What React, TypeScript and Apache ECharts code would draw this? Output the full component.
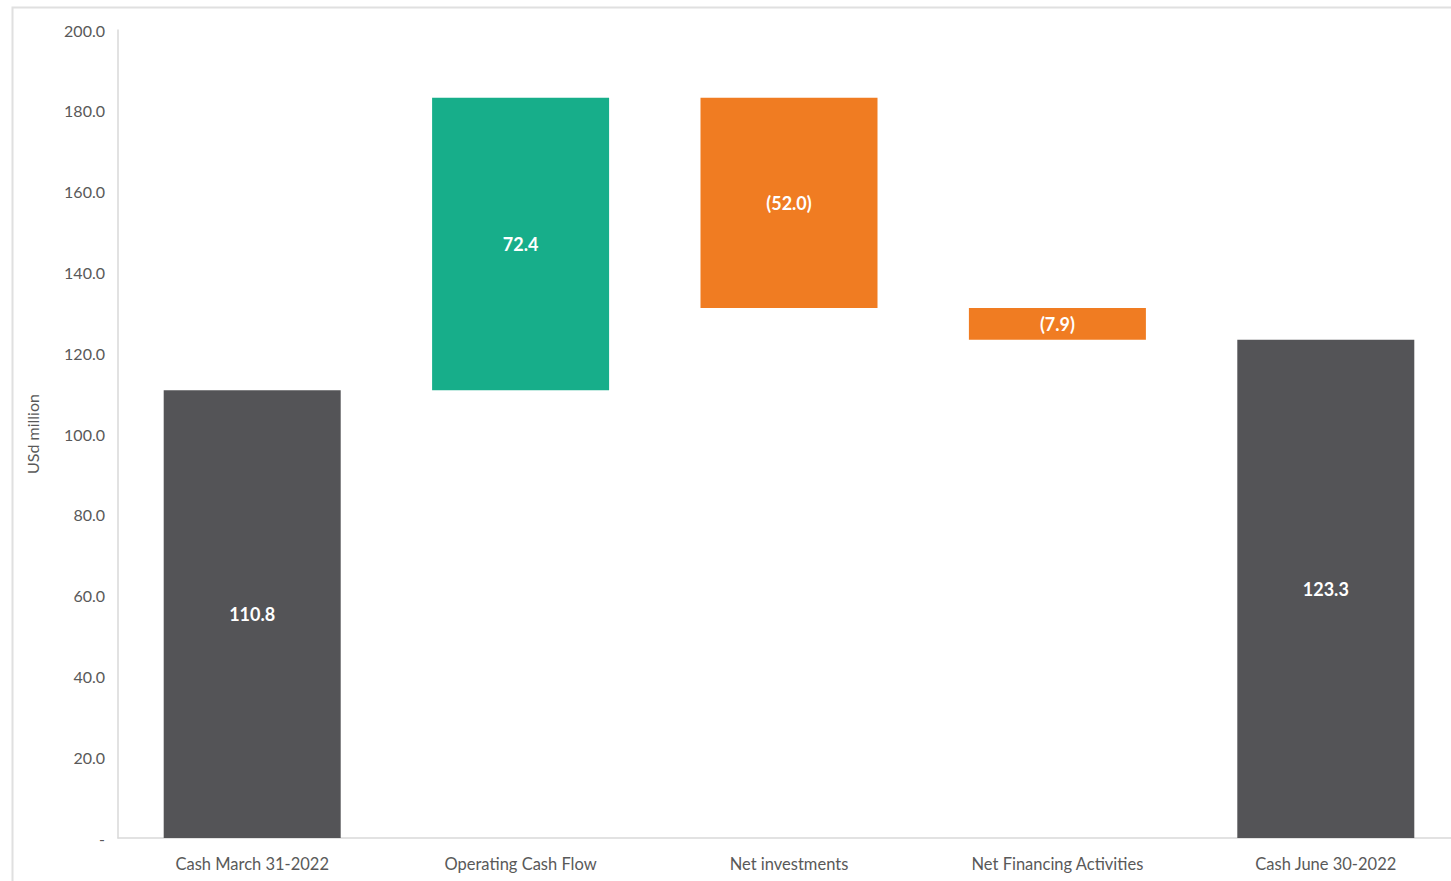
import React, { useEffect, useRef } from "react";
import * as echarts from "echarts";

const categories = [
  "Cash March 31-2022",
  "Operating Cash Flow",
  "Net investments",
  "Net Financing Activities",
  "Cash June 30-2022",
];
// signed amounts; totals are absolute levels
const amounts = [110.8, 72.4, -52.0, -7.9, 123.3];
const kinds = ["total", "delta", "delta", "delta", "total"];
const yTicks = { min: 0, max: 200, interval: 20 };

const COLORS = { total: "#545457", up: "#17AE8A", down: "#F07C22" };

export default function App() {
  const ref = useRef<HTMLDivElement>(null);
  useEffect(() => {
    if (!ref.current) return;
    const chart = echarts.init(ref.current, null, { renderer: "svg" });

    const base: number[] = [];
    const visible: any[] = [];
    let running = 0;
    amounts.forEach((v, i) => {
      if (kinds[i] === "total") {
        base.push(0);
        running = v;
        visible.push({ value: v, itemStyle: { color: COLORS.total } });
      } else {
        const next = running + v;
        base.push(Math.min(running, next));
        visible.push({
          value: Math.abs(v),
          signed: v,
          itemStyle: { color: v >= 0 ? COLORS.up : COLORS.down },
        });
        running = next;
      }
    });

    const font = "Lato, 'Open Sans', sans-serif";

    chart.setOption({
      animation: false,
      backgroundColor: "#ffffff",
      textStyle: { fontFamily: font },
      graphic: [
        {
          type: "rect",
          shape: { x: 12.5, y: 7.5, width: 1470, height: 900 },
          style: { fill: "none", stroke: "#e0e0e0", lineWidth: 2 },
          silent: true,
          z: -10,
        },
      ],
      grid: { left: 118, top: 30, right: 0, bottom: 43, containLabel: false },
      xAxis: {
        type: "category",
        data: categories,
        axisLine: { show: true, lineStyle: { color: "#d9d9d9", width: 1.5 } },
        axisTick: { show: false },
        axisLabel: { color: "#595959", fontSize: 16.5, margin: 17, fontFamily: font },
      },
      yAxis: {
        type: "value",
        min: yTicks.min,
        max: yTicks.max,
        interval: yTicks.interval,
        name: "USd million",
        nameLocation: "middle",
        nameGap: 78,
        nameRotate: 90,
        nameTextStyle: { color: "#595959", fontSize: 16, fontFamily: font },
        axisLine: { show: true, lineStyle: { color: "#d9d9d9", width: 1.5 } },
        axisTick: { show: false },
        splitLine: { show: false },
        axisLabel: {
          color: "#595959",
          fontSize: 16,
          margin: 13,
          fontFamily: font,
          formatter: (v: number) => (v === 0 ? "-" : v.toFixed(1)),
        },
      },
      series: [
        {
          type: "bar",
          stack: "w",
          data: base,
          barWidth: 177,
          itemStyle: { color: "transparent" },
          silent: true,
        },
        {
          type: "bar",
          stack: "w",
          data: visible,
          barWidth: 177,
          label: {
            show: true,
            position: "inside",
            color: "#ffffff",
            fontSize: 18,
            fontWeight: "bold",
            fontFamily: font,
            formatter: (p: any) => {
              const s = p.data.signed;
              if (s !== undefined && s < 0) return "(" + Math.abs(s).toFixed(1) + ")";
              return Number(p.value).toFixed(1);
            },
          },
        },
      ],
    });
    return () => chart.dispose();
  }, []);
  return (
    <div
      style={{
        position: "absolute",
        left: 0,
        top: 0,
        width: 1451,
        height: 881,
        overflow: "hidden",
      }}
    >
      <div ref={ref} style={{ width: 1460, height: 881 }} />
    </div>
  );
}
